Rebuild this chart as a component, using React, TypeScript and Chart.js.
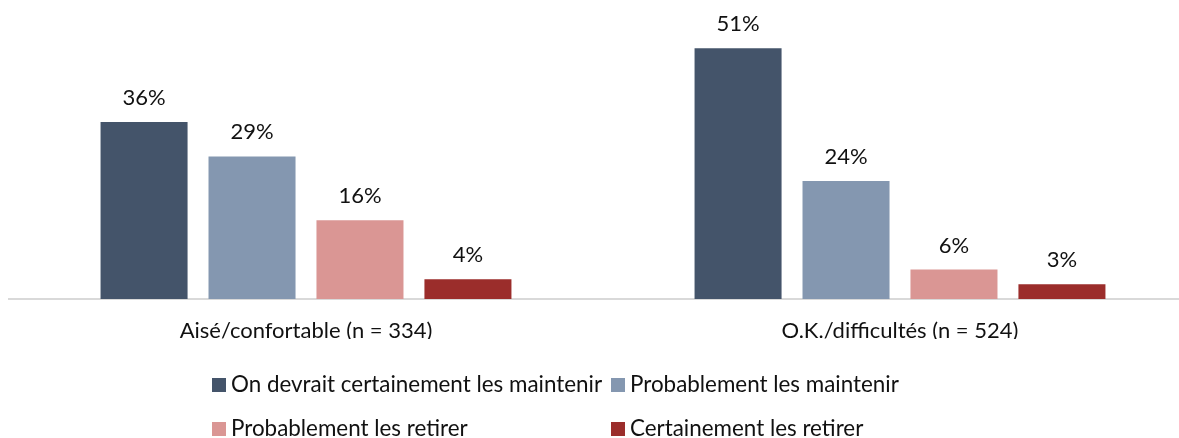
import { useEffect, useRef } from "react";
import { Chart, registerables } from "chart.js";

Chart.register(...registerables);

const categories = ["Aisé/confortable (n = 334)", "O.K./difficultés (n = 524)"];
const seriesNames = [
  "On devrait certainement les maintenir",
  "Probablement les maintenir",
  "Probablement les retirer",
  "Certainement les retirer",
];
const certainementMaintenir = [36, 51];
const probablementMaintenir = [29, 24];
const probablementRetirer = [16, 6];
const certainementRetirer = [4, 3];
const seriesColors = ["#44546A", "#8497B0", "#DA9694", "#9B2D2B"];
const yMin = 0;
const yMax = 60;

const FONT = "Lato, 'Open Sans', sans-serif";

const dataLabelPlugin = {
  id: "dataLabels",
  afterDatasetsDraw(chart: any) {
    const ctx = chart.ctx;
    ctx.save();
    ctx.font = `22px ${FONT}`;
    ctx.fillStyle = "#111111";
    ctx.textAlign = "center";
    ctx.textBaseline = "alphabetic";
    chart.data.datasets.forEach((ds: any, i: number) => {
      const meta = chart.getDatasetMeta(i);
      meta.data.forEach((bar: any, j: number) => {
        ctx.fillText(`${ds.data[j]}%`, bar.x, bar.y - 17);
      });
    });
    ctx.restore();
  },
};

const legendPlugin = {
  id: "customLegend",
  afterDraw(chart: any) {
    const ctx = chart.ctx;
    const colX = [212, 611];
    const baseY = [392, 436];
    const box = 14;
    ctx.save();
    ctx.font = `22.4px ${FONT}`;
    ctx.textBaseline = "alphabetic";
    ctx.textAlign = "left";
    chart.data.datasets.forEach((ds: any, i: number) => {
      const x = colX[i % 2];
      const y = baseY[Math.floor(i / 2)];
      ctx.fillStyle = ds.backgroundColor;
      ctx.fillRect(x, y - box, box, box);
      ctx.fillStyle = "#111111";
      ctx.fillText(ds.label, x + 19, y);
    });
    ctx.restore();
  },
};

export default function App() {
  const ref = useRef<HTMLCanvasElement>(null);
  useEffect(() => {
    if (!ref.current) return;
    const series = [certainementMaintenir, probablementMaintenir, probablementRetirer, certainementRetirer];
    const chart = new Chart(ref.current, {
      type: "bar",
      data: {
        labels: categories,
        datasets: series.map((d, i) => ({
          label: seriesNames[i],
          data: d,
          backgroundColor: seriesColors[i],
          borderWidth: 0,
          categoryPercentage: 0.727,
          barPercentage: 0.806,
        })),
      },
      options: {
        responsive: false,
        animation: false,
        devicePixelRatio: 1,
        layout: { padding: { left: 9, right: 3, top: 4, bottom: 99 } },
        plugins: {
          legend: { display: false },
          tooltip: { enabled: false },
        },
        scales: {
          x: {
            grid: { display: false, drawTicks: false },
            border: { display: true, color: "#D9D9D9", width: 2 },
            ticks: {
              padding: 19,
              color: "#111111",
              font: { family: FONT, size: 22 },
              maxRotation: 0,
            },
            afterFit: (scale: any) => {
              scale.height = 40;
            },
          },
          y: {
            display: false,
            min: yMin,
            max: yMax,
          },
        },
      },
      plugins: [dataLabelPlugin, legendPlugin],
    });
    return () => chart.destroy();
  }, []);

  return (
    <div
      style={{
        position: "absolute",
        left: 0,
        top: 0,
        width: 1179,
        height: 438,
        overflow: "hidden",
        background: "#ffffff",
      }}
    >
      <canvas ref={ref} width={1200} height={438} style={{ width: 1200, height: 438, display: "block" }} />
    </div>
  );
}
